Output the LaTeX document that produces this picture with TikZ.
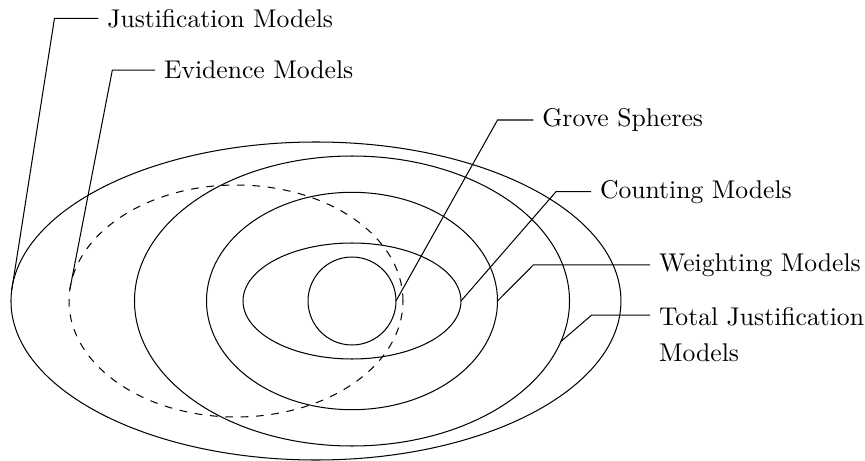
\documentclass[tikz,border=0pt]{standalone}
\usepackage{tikz}
\usetikzlibrary{shapes.geometric}

\begin{document}
\begin{tikzpicture}
    \tikzset{
        model/.style={ellipse, draw, inner sep=0pt, outer sep=0pt},
        lbl/.style={anchor=west, align=left}
    }
    \useasboundingbox (0, 0) rectangle (11.857, 6.319);

    \node[model, minimum width=8.361cm, minimum height=4.359cm] (justm) at (4.331, 2.193) {};
    \node[model, dashed, minimum width=4.578cm, minimum height=3.180cm] (evidm) at (3.235, 2.193) {};
    \node[model, minimum width=5.963cm, minimum height=3.975cm] (totalm) at (4.825, 2.193) {};
    \node[model, minimum width=3.989cm, minimum height=2.980cm] (weightm) at (4.825, 2.193) {};
    \node[model, minimum width=2.988cm, minimum height=1.590cm] (countm) at (4.825, 2.193) {};
    \node[circle, draw, inner sep=0pt, outer sep=0pt, minimum size=1.206cm] (grove) at (4.825, 2.193) {};

    \node[lbl] (justlbl) at (1.347, 6.068) {Justification Models};
    \node[lbl] (evidlbl) at (2.125, 5.359) {Evidence Models};
    \node[lbl] (grovelbl) at (7.310, 4.674) {Grove Spheres};
    \node[lbl] (countlbl) at (8.101, 3.691) {Counting Models};
    \node[lbl] (weightlbl) at (8.910, 2.687) {Weighting Models};
    \node[lbl, anchor=north west] (totlbl) at (8.910, 2.225) {Total Justification\\[2pt]Models};

    \draw
    (justm.178) -- ([xshift=-6mm]justlbl.west) -- (justlbl.west)
    (evidm.176) -- ([xshift=-5.85mm]evidlbl.west) -- (evidlbl.west)
    (grove.east) -- ([xshift=-4.9mm]grovelbl.west) -- (grovelbl.west)
    (countm.east) -- ([xshift=-4.8mm]countlbl.west) -- (countlbl.west)
    (weightm.east) -- ([xshift=-16mm]weightlbl.west) -- (weightlbl.west)
    (totalm.-11) -- ([xshift=-8mm, yshift=-6.4pt]totlbl.north west) -- ([yshift=-6.4pt]totlbl.north west);
\end{tikzpicture}
\end{document}
